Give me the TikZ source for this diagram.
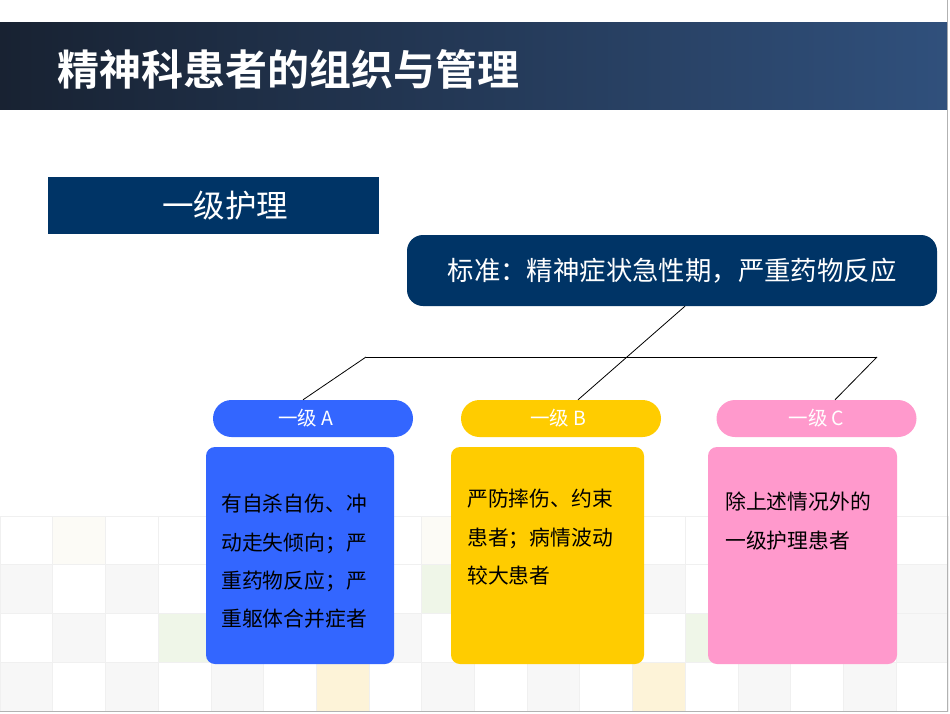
\documentclass[tikz,border=0pt]{standalone}
\usepackage{fontspec}
\setmainfont{Noto Sans CJK SC}[BoldFont={Noto Sans CJK SC Bold}]
\usetikzlibrary{calc}
\definecolor{navy}{RGB}{0,52,102}
\definecolor{hdrL}{RGB}{24,34,50}
\definecolor{hdrR}{RGB}{48,80,124}
\definecolor{blueA}{RGB}{51,102,255}
\definecolor{yellowB}{RGB}{255,204,0}
\definecolor{pinkC}{RGB}{255,153,204}
\definecolor{tileline}{RGB}{240,240,240}
\definecolor{tgray}{RGB}{247,247,247}
\definecolor{tgreen}{RGB}{239,246,232}
\definecolor{tyellow}{RGB}{253,243,216}
\definecolor{tcream}{RGB}{252,251,246}
\tikzset{
  tile/.style={draw=tileline, line width=0.6pt},
  pill/.style={rounded corners=18.5pt, minimum width=200pt, minimum height=37pt, inner sep=0pt,
               text=white, font=\fontsize{19.5}{21}\selectfont},
  card/.style={rounded corners=9pt, minimum width=188pt, minimum height=217pt, inner sep=0pt},
  cardtext/.style={anchor=north west, align=left, inner sep=0pt, text=black,
               font=\fontsize{20.8}{38.3}\selectfont},
  link/.style={draw=black, line width=0.8pt}
}
\begin{document}
\begin{tikzpicture}[x=1pt,y=-1pt]
\useasboundingbox (0,0) rectangle (950,713);
\fill[white] (0,0) rectangle (950,713);
% background tiles
\foreach \r in {0,...,3}{
  \foreach \c in {0,...,17}{
    \draw[tile] ({\c*52.7},{516+\r*48.75}) rectangle ++(52.7,48.75);
  }
}
\foreach \c/\r/\col in {1/0/tcream, 8/0/tcream,
  0/1/tgray, 2/1/tgray, 8/1/tgreen, 12/1/tgray, 17/1/tgray,
  1/2/tgray, 3/2/tgreen, 7/2/tgray, 13/2/tgreen, 17/2/tgray,
  0/3/tgray, 2/3/tgray, 4/3/tgray, 6/3/tyellow, 8/3/tgray, 10/3/tgray, 12/3/tyellow, 14/3/tgray, 16/3/tgray}{
  \draw[tile, fill=\col] ({\c*52.7},{516+\r*48.75}) rectangle ++(52.7,48.75);
}
% slide border
\draw[gray!60, line width=1pt] (947.5,0) -- (947.5,711.5) -- (0,711.5);
% header band
\shade[left color=hdrL, right color=hdrR] (0,22) rectangle (947,109);
\node[anchor=west, inner sep=0pt, text=white, font=\fontsize{42}{44}\selectfont\bfseries] (title) at (57,69) {精神科患者的组织与管理};
% level box
\node[fill=navy, minimum width=331pt, minimum height=57pt, inner sep=0pt, text=white,
      font=\fontsize{31.5}{33}\selectfont] (lvl) at (213.5,205.5) {\hspace*{23pt}一级护理};
% standard box
\node[fill=navy, rounded corners=16pt, minimum width=530pt, minimum height=71pt, inner sep=0pt,
      text=white, font=\fontsize{26.4}{28}\selectfont] (std) at (672,270.5) {标准：精神症状急性期，严重药物反应};
% pills
\node[pill, fill=blueA] (pA) at (313,418.5) {一级 A\hspace*{14pt}};
\node[pill, fill=yellowB] (pB) at (561,418.5) {一级 B\hspace*{5pt}};
\node[pill, fill=pinkC] (pC) at (816.5,418.5) {一级 C};
% cards
\node[card, fill=blueA] (cA) at (300,555.5) {};
\node[card, fill=yellowB, minimum width=193pt] (cB) at (547.5,555.5) {};
\node[card, fill=pinkC, minimum width=189pt] (cC) at (802.5,555.5) {};
\node[cardtext] (tA) at (221,494) {有自杀自伤、冲\\动走失倾向；严\\重药物反应；严\\重躯体合并症者};
\node[cardtext] (tB) at (467,489) {严防摔伤、约束\\患者；病情波动\\较大患者};
\node[cardtext] (tC) at (725,492) {除上述情况外的\\一级护理患者};
% connectors
\coordinate (hl) at (366,357);
\coordinate (hr) at (877,357);
\draw[link] ([xshift=13pt]std.south) -- ([xshift=17pt]pB.north);
\draw[link] (hl) -- (hr);
\draw[link] (hl) -- ([xshift=-10pt]pA.north);
\draw[link] (hr) -- ([xshift=18.5pt]pC.north);
\end{tikzpicture}
\end{document}
